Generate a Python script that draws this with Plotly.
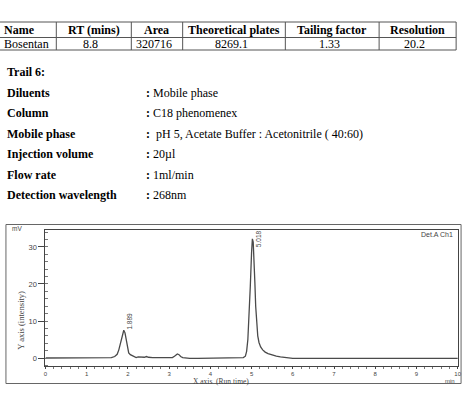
import plotly.graph_objects as go

W, H = 470, 393

# ---------------- data ----------------
table_headers = ["Name", "RT (mins)", "Area", "Theoretical plates", "Tailing factor", "Resolution"]
table_row = ["Bosentan", "8.8", "320716", "8269.1", "1.33", "20.2"]

cond_labels = ["Diluents", "Column", "Mobile phase", "Injection volume", "Flow rate", "Detection wavelength"]
cond_values = ["Mobile phase", "C18 phenomenex", " pH 5, Acetate Buffer : Acetonitrile ( 40:60)", "20µl", "1ml/min", "268nm"]

chrom_time = [0.0, 0.85, 0.9, 1.5, 1.6, 1.68, 1.74, 1.78, 1.82, 1.86, 1.9, 1.93, 1.96, 1.99,
              2.02, 2.06, 2.1, 2.15, 2.2, 2.25, 2.3, 2.35, 2.4, 2.45, 2.5, 2.6, 2.7, 2.8, 2.9,
              3.0, 3.08, 3.13, 3.17, 3.2, 3.24, 3.28, 3.33, 3.4, 3.5, 3.7, 4.2, 4.7, 4.8,
              4.85, 4.88, 4.91, 4.94, 4.97, 5.0, 5.02, 5.04, 5.06, 5.08, 5.1, 5.12, 5.15,
              5.18, 5.22, 5.27, 5.33, 5.4, 5.5, 5.6, 5.7, 5.8, 5.9, 6.0, 7.0, 8.0, 9.0, 10.0]
chrom_mv = [0.0, 0.0, -0.1, -0.1, 0.1, 0.4, 1.0, 2.2, 4.2, 6.3, 7.5, 6.8, 4.6, 2.5,
            1.4, 0.9, 0.7, 0.3, 0.1, 0.3, 0.2, 0.1, 0.2, 0.4, 0.2, 0.1, 0.1, 0.0, 0.0,
            -0.1, 0.1, 0.5, 0.9, 1.1, 0.9, 0.4, 0.1, 0.0, -0.1, -0.1, 0.0, 0.0, 0.1,
            0.5, 1.8, 5.0, 11.0, 19.5, 28.5, 32.2, 31.3, 27.0, 20.5, 14.0, 9.5, 6.0,
            4.2, 3.0, 2.2, 1.6, 1.2, 0.8, 0.5, 0.3, 0.2, 0.1, -0.1, -0.1, -0.1, -0.1, -0.1]

peak_rt = [1.889, 5.018]
peak_height = [7.5, 32.2]
peak_labels = ["1.889", "5.018"]

# ---------------- helpers ----------------
def px(x):
    return x / W

def py(y):
    return 1 - y / H

serif = "Liberation Serif, Times New Roman, serif"
sans = "Liberation Sans, Arial, sans-serif"

fig = go.Figure()
fig.add_trace(go.Scatter(x=chrom_time, y=chrom_mv, mode="lines",
                         line=dict(color="#4a4a4a", width=1.3), hoverinfo="skip",
                         showlegend=False))

annotations = []
shapes = []

# ---------------- table ----------------
col_edges = [-72, 55, 131, 183, 287, 382, 460]
row_edges = [22, 37.5, 50]
line_col = "#555555"
for y in row_edges:
    shapes.append(dict(type="line", xref="paper", yref="paper", x0=px(-2), x1=px(460),
                       y0=py(y), y1=py(y), line=dict(color=line_col, width=1)))
for x in col_edges[1:]:
    shapes.append(dict(type="line", xref="paper", yref="paper", x0=px(x), x1=px(x),
                       y0=py(22), y1=py(50), line=dict(color=line_col, width=1)))

for i, (h, v) in enumerate(zip(table_headers, table_row)):
    if i == 0:
        annotations.append(dict(x=px(0.5), y=py(29.7), xref="paper", yref="paper", text="<b>%s</b>" % h,
                                showarrow=False, xanchor="left", yanchor="middle",
                                font=dict(family=serif, size=12, color="black")))
        annotations.append(dict(x=px(0.5), y=py(44), xref="paper", yref="paper", text=v,
                                showarrow=False, xanchor="left", yanchor="middle",
                                font=dict(family=serif, size=12, color="black")))
    else:
        cx = (col_edges[i] + col_edges[i + 1]) / 2
        annotations.append(dict(x=px(cx), y=py(29.7), xref="paper", yref="paper", text="<b>%s</b>" % h,
                                showarrow=False, xanchor="center", yanchor="middle",
                                font=dict(family=serif, size=12, color="black")))
        annotations.append(dict(x=px(cx - 3), y=py(44), xref="paper", yref="paper", text=v,
                                showarrow=False, xanchor="center", yanchor="middle",
                                font=dict(family=serif, size=12, color="black")))

# ---------------- conditions text ----------------
annotations.append(dict(x=px(3), y=py(72.3), xref="paper", yref="paper", text="<b>Trail 6:</b>",
                        showarrow=False, xanchor="left", yanchor="middle",
                        font=dict(family=serif, size=12, color="black")))
line_y = [92.7, 113.2, 133.7, 154.3, 174.8, 195.3]
for lab, val, y in zip(cond_labels, cond_values, line_y):
    annotations.append(dict(x=px(3), y=py(y), xref="paper", yref="paper", text="<b>%s</b>" % lab,
                            showarrow=False, xanchor="left", yanchor="middle",
                            font=dict(family=serif, size=12, color="black")))
    annotations.append(dict(x=px(144), y=py(y), xref="paper", yref="paper",
                            text="<b>:</b> " + val,
                            showarrow=False, xanchor="left", yanchor="middle",
                            font=dict(family=serif, size=12, color="black")))

# ---------------- chart frame ----------------
shapes.append(dict(type="rect", xref="paper", yref="paper", x0=px(4), x1=px(465),
                   y0=py(383.5), y1=py(224.5), line=dict(color="#666666", width=1)))

annotations.append(dict(x=px(8), y=py(228.5), xref="paper", yref="paper", text="mV",
                        showarrow=False, xanchor="left", yanchor="middle",
                        font=dict(family=sans, size=6.5, color="#444444")))
annotations.append(dict(x=px(459), y=py(235), xref="paper", yref="paper", text="Det.A Ch1",
                        showarrow=False, xanchor="right", yanchor="middle",
                        font=dict(family=sans, size=7, color="#444444")))
annotations.append(dict(x=px(461), y=py(380.5), xref="paper", yref="paper", text="min",
                        showarrow=False, xanchor="right", yanchor="middle",
                        font=dict(family=sans, size=6, color="#444444")))
annotations.append(dict(x=px(222), y=py(381.5), xref="paper", yref="paper", text="X axis  (Run time)",
                        showarrow=False, xanchor="center", yanchor="middle",
                        font=dict(family=serif, size=7.5, color="#444444")))
annotations.append(dict(x=px(19), y=py(320), xref="paper", yref="paper", text="Y axis (intensity)",
                        showarrow=False, xanchor="center", yanchor="middle", textangle=-90,
                        font=dict(family=serif, size=8.5, color="#444444")))

# peak labels
for rt, hgt, lab, xs, ys in zip(peak_rt, peak_height, peak_labels, [6, 7], [9, 0]):
    annotations.append(dict(x=rt, y=hgt, xref="x", yref="y", text=lab, showarrow=False,
                            textangle=-90, xanchor="center", yanchor="middle",
                            xshift=xs, yshift=ys,
                            font=dict(family=sans, size=6.5, color="#444444")))

ax_col = "#444444"
fig.update_layout(
    width=W, height=H,
    margin=dict(l=0, r=0, t=0, b=0),
    paper_bgcolor="white", plot_bgcolor="white",
    showlegend=False,
    annotations=annotations,
    shapes=shapes,
    xaxis=dict(domain=[px(44), px(462)], range=[0, 10.01], showgrid=False, zeroline=False,
               showline=True, linecolor=ax_col, linewidth=1, mirror=True,
               tickmode="linear", tick0=0, dtick=1, ticks="outside", ticklen=2, tickcolor=ax_col,
               tickfont=dict(family=sans, size=6, color="#444444"),
               minor=dict(ticks="outside", ticklen=2, dtick=0.2, tickcolor="#777777")),
    yaxis=dict(domain=[py(366), py(230)], range=[-2.16, 34.59], showgrid=False, zeroline=False,
               showline=True, linecolor=ax_col, linewidth=1, mirror=True,
               tickmode="array", tickvals=[0, 10, 20, 30], ticks="outside", ticklen=6, tickcolor=ax_col,
               tickfont=dict(family=sans, size=7.5, color="#444444"),
               minor=dict(ticks="inside", ticklen=3, dtick=2, tickcolor="#777777")),
)

fig.write_html("out.html")
